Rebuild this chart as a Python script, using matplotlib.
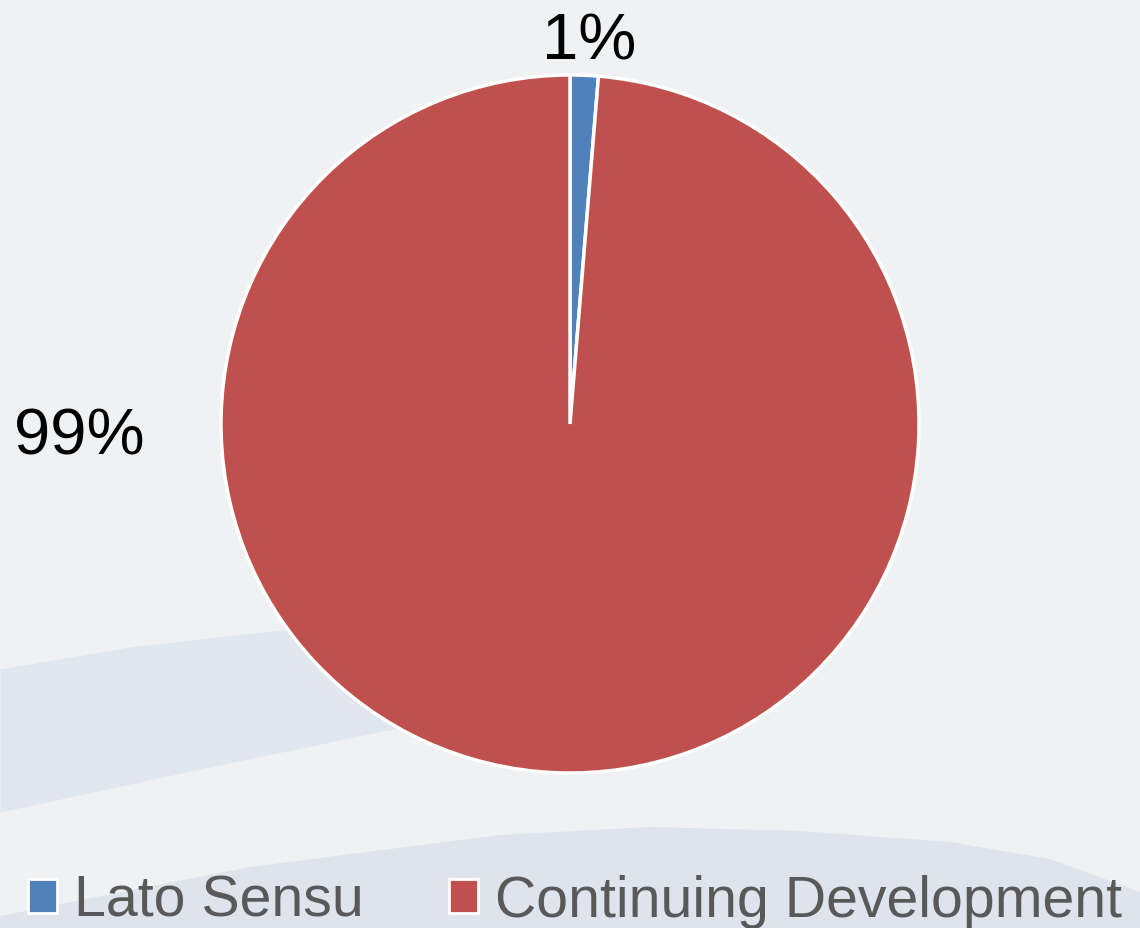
import matplotlib
matplotlib.use("Agg")
import matplotlib.pyplot as plt
import numpy as np

categories = ["Lato Sensu", "Continuing Development"]
values = [1.3, 98.7]
labels = ["1%", "99%"]
colors = ["#4f81bd", "#c0504d"]

W, H = 1140, 929
fig = plt.figure(figsize=(W / 100, H / 100), dpi=100)
fig.patch.set_facecolor("#f0f1f3")

# background swooshes
bg = fig.add_axes([0, 0, 1, 1], zorder=0)
bg.set_xlim(0, W)
bg.set_ylim(H, 0)
bg.axis("off")
bg.set_facecolor("#f0f1f3")
x1 = np.linspace(0, 560, 120)
top1 = np.interp(x1, [0, 130, 270, 420, 560], [670, 648, 632, 621, 615])
bot1 = np.interp(x1, [0, 200, 383, 560], [813, 770, 732, 705])
bg.fill_between(x1, top1, bot1, color="#e1e7ef", lw=0)
x = np.linspace(0, W, 300)
top2 = np.interp(x, [0, 250, 500, 650, 800, 950, 1050, 1140],
                 [917, 868, 836, 828, 832, 843, 860, 893])
bg.fill_between(x, top2, H, color="#dfe3ec", lw=0)

rpx = 349
cx, cy = 570, 425
ax = fig.add_axes([(cx - rpx) / W, (H - cy - rpx) / H, 2 * rpx / W, 2 * rpx / H], zorder=1)
wedges, _ = ax.pie(values, colors=colors, startangle=90, counterclock=False, radius=1,
                   wedgeprops=dict(edgecolor="white", linewidth=2.5))
ax.set_xlim(-1, 1)
ax.set_ylim(-1, 1)
ax.set_aspect("equal")
ax.axis("off")

lab_pos = [(0.055, 1.097), (-1.405, -0.035)]
for lab, (lx, ly) in zip(labels, lab_pos):
    ax.text(lx, ly, lab, ha="center", va="center", fontsize=47,
            family="Liberation Sans", color="#000000", clip_on=False)

leg = fig.legend(wedges, categories, loc="lower left", bbox_to_anchor=(28 / W, 0.0),
                 ncol=2, frameon=False, handlelength=0.5, handleheight=0.55,
                 handletextpad=0.3, columnspacing=1.5, borderpad=0, borderaxespad=0,
                 prop=dict(family="Liberation Sans", size=41.2))
for t in leg.get_texts():
    t.set_color("#595959")
for h in leg.legend_handles:
    h.set_edgecolor("white")
    h.set_linewidth(2)

fig.savefig("out.png", dpi=100, facecolor=fig.get_facecolor())
